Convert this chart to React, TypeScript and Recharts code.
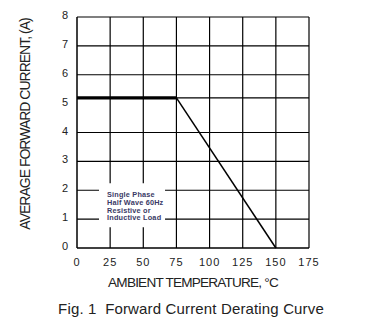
import React from "react"
import {
  LineChart,
  Line,
  XAxis,
  YAxis,
  CartesianGrid,
  ReferenceArea,
} from "recharts"

// ambient temperature (°C) breakpoints
const temps = [0, 75, 150]
// flat (rated) part and derated part of the curve, amps
const ratedCurrent = [5.2, 5.2, null]
const deratedCurrent = [null, 5.2, 0]

const xTicks = [0, 25, 50, 75, 100, 125, 150, 175]
const yTicks = [0, 1, 2, 3, 4, 5, 6, 7, 8]
// grid lines as drawn on the sheet (the one near 5 sits on the 5.2 A level)
const gridY = [1, 2, 3, 4, 5.2, 6, 7, 8]
const gridX = [25, 50, 75, 100, 125, 150, 175]

const noteLines = ["Single Phase", "Half Wave 60Hz", "Resistive or", "Inductive Load"]

const data = temps.map((t, i) => ({
  t,
  rated: ratedCurrent[i],
  derated: deratedCurrent[i],
}))

const font = "'Liberation Sans', Arial, sans-serif"

// eslint-disable-next-line @typescript-eslint/no-explicit-any
function XTick({ x, y, payload }: any) {
  return (
    <text
      x={x}
      y={y + 10}
      textAnchor="middle"
      fontSize={11}
      letterSpacing={1}
      fontFamily={font}
      fill="#222"
    >
      {payload.value}
    </text>
  )
}

// eslint-disable-next-line @typescript-eslint/no-explicit-any
function YTick({ x, y, payload }: any) {
  return (
    <text x={x - 1} y={y + 2} textAnchor="end" fontSize={11} fontFamily={font} fill="#222">
      {payload.value}
    </text>
  )
}

// eslint-disable-next-line @typescript-eslint/no-explicit-any
function NoteLabel({ viewBox }: any) {
  if (!viewBox) return null
  const x = viewBox.x + 8
  return (
    <text
      x={x}
      y={viewBox.y + 14}
      fontSize={7.3}
      letterSpacing={0.2}
      fontWeight="bold"
      fontFamily={font}
      fill="#3a3a66"
    >
      {noteLines.map((l, i) => (
        <tspan key={i} x={x} dy={i === 0 ? 0 : 7.7}>
          {l}
        </tspan>
      ))}
    </text>
  )
}

export default function App() {
  return (
    <div style={{ position: "absolute", left: 0, top: 0, width: 376, height: 328, background: "#fff" }}>
      <LineChart
        width={376}
        height={328}
        data={data}
        margin={{ top: 17, right: 67, left: 37, bottom: 60 }}
      >
        <CartesianGrid
          stroke="#000"
          strokeWidth={1.2}
          horizontalValues={gridY}
          verticalValues={gridX}
        />
        <XAxis
          dataKey="t"
          type="number"
          domain={[0, 175]}
          ticks={xTicks}
          height={20}
          axisLine={{ stroke: "#000", strokeWidth: 1.5 }}
          tickLine={false}
          tick={<XTick />}
        />
        <YAxis
          type="number"
          domain={[0, 8]}
          ticks={yTicks}
          width={40}
          axisLine={{ stroke: "#000", strokeWidth: 1.5 }}
          tickLine={false}
          tick={<YTick />}
        />
        <ReferenceArea
          x1={16.6}
          x2={66.4}
          y1={0.72}
          y2={2.24}
          fill="#fff"
          fillOpacity={1}
          stroke="none"
          label={<NoteLabel />}
        />
        <Line
          dataKey="rated"
          stroke="#000"
          strokeWidth={3.2}
          dot={false}
          isAnimationActive={false}
          connectNulls={false}
        />
        <Line
          dataKey="derated"
          stroke="#000"
          strokeWidth={1.5}
          dot={false}
          isAnimationActive={false}
          connectNulls={false}
        />
      </LineChart>
      <div
        style={{
          position: "absolute",
          left: 25,
          top: 124,
          transform: "translate(-50%, -50%) rotate(-90deg)",
          whiteSpace: "nowrap",
          fontFamily: font,
          fontSize: 14,
          letterSpacing: -1,
          color: "#222",
        }}
      >
        AVERAGE FORWARD CURRENT, (A)
      </div>
      <div
        style={{
          position: "absolute",
          left: 193,
          top: 282,
          transform: "translate(-50%, -50%)",
          whiteSpace: "nowrap",
          fontFamily: font,
          fontSize: 13.6,
          letterSpacing: -0.8,
          color: "#222",
        }}
      >
        AMBIENT TEMPERATURE, °C
      </div>
      <div
        style={{
          position: "absolute",
          left: 191,
          top: 308,
          transform: "translate(-50%, -50%)",
          whiteSpace: "nowrap",
          fontFamily: font,
          fontSize: 15,
          letterSpacing: 0.15,
          color: "#222",
        }}
      >
        Fig. 1&nbsp;&nbsp;Forward Current Derating Curve
      </div>
    </div>
  )
}
